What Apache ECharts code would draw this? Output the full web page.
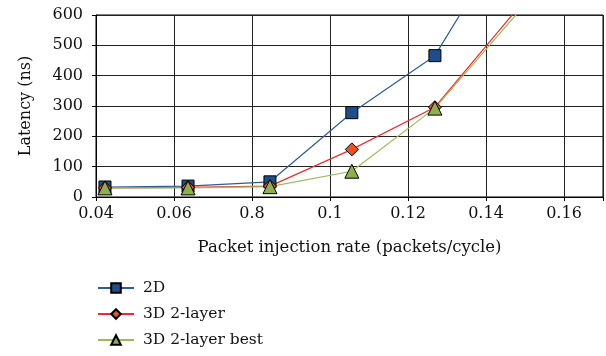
<!DOCTYPE html>
<html>
<head>
<meta charset="utf-8">
<script src="https://cdn.jsdelivr.net/npm/echarts@6/dist/echarts.min.js"></script>
<style>
html,body{margin:0;padding:0;background:#fff;}
#c{width:606px;height:356px;}
</style>
</head>
<body>
<div id="c"></div>
<script>
const xValues = [0.0423, 0.0636, 0.0846, 0.1056, 0.1269, 0.148];
const series2D = [33, 36, 50, 278, 466, 910];
const series3D = [30, 32, 36, 157, 296, 620];
const series3DBest = [30, 30, 34, 85, 293, 605];
const xTickLabels = ["0.04", "0.06", "0.8", "0.1", "0.12", "0.14", "0.16"];
const yTickLabels = ["0", "100", "200", "300", "400", "500", "600"];
const seriesNames = ["2D", "3D 2-layer", "3D 2-layer best"];

const FONT = "'DejaVu Serif', 'Liberation Serif', serif";
const chart = echarts.init(document.getElementById('c'), null, {renderer: 'canvas'});

function pairs(ys) { return xValues.map((x, i) => [x, ys[i]]); }

chart.setOption({
  animation: false,
  backgroundColor: '#fff',
  textStyle: {fontFamily: FONT, color: '#111'},
  grid: {left: 96, right: 3, top: 15, bottom: 159, show: true, borderColor: '#000', borderWidth: 1, backgroundColor: 'transparent'},
  legend: {
    orient: 'vertical', left: 97, top: 280, height: 76, padding: 0,
    itemWidth: 36, itemHeight: 12, itemGap: 10,
    textStyle: {fontFamily: FONT, fontSize: 15.5, color: '#111', padding: [0, 0, 0, 4]},
    data: seriesNames
  },
  xAxis: {
    type: 'value', min: 0.04, max: 0.17, interval: 0.02,
    name: 'Packet injection rate (packets/cycle)',
    nameLocation: 'middle', nameGap: 42,
    nameTextStyle: {fontFamily: FONT, fontSize: 16.5, color: '#111'},
    axisLine: {show: true, lineStyle: {color: '#000', width: 1}},
    axisTick: {show: true, length: 4, lineStyle: {color: '#000'}},
    axisLabel: {
      fontFamily: FONT, fontSize: 16, color: '#111', margin: 9,
      formatter: function (v) {
        const i = Math.round((v - 0.04) / 0.02);
        return (i >= 0 && i < xTickLabels.length && Math.abs(v - (0.04 + i * 0.02)) < 1e-6) ? xTickLabels[i] : '';
      }
    },
    splitLine: {show: true, lineStyle: {color: '#222', width: 1}}
  },
  yAxis: {
    type: 'value', min: 0, max: 600, interval: 100,
    name: 'Latency (ns)',
    nameLocation: 'middle', nameGap: 62, nameRotate: 90,
    nameTextStyle: {fontFamily: FONT, fontSize: 16, color: '#111'},
    axisLine: {show: true, lineStyle: {color: '#000', width: 1}},
    axisTick: {show: true, length: 4, lineStyle: {color: '#000'}},
    axisLabel: {
      fontFamily: FONT, fontSize: 16, color: '#111', margin: 13,
      formatter: function (v) { const i = Math.round(v / 100); return yTickLabels[i] || ''; }
    },
    splitLine: {show: true, lineStyle: {color: '#222', width: 1}}
  },
  series: [
    {
      name: seriesNames[0], type: 'line', data: pairs(series2D), clip: true,
      symbol: 'rect', symbolSize: 12,
      lineStyle: {color: '#2E5C9A', width: 1.2},
      itemStyle: {color: '#1F4E8C', borderColor: '#000', borderWidth: 1}
    },
    {
      name: seriesNames[1], type: 'line', data: pairs(series3D), clip: true,
      symbol: 'diamond', symbolSize: 13,
      lineStyle: {color: '#F22A2A', width: 1.2},
      itemStyle: {color: '#F0501E', borderColor: '#000', borderWidth: 1}
    },
    {
      name: seriesNames[2], type: 'line', data: pairs(series3DBest), clip: true,
      symbol: 'triangle', symbolSize: 14,
      lineStyle: {color: '#9BBB59', width: 1.2},
      itemStyle: {color: '#8DB04E', borderColor: '#000', borderWidth: 1}
    }
  ]
});
</script>
</body>
</html>
